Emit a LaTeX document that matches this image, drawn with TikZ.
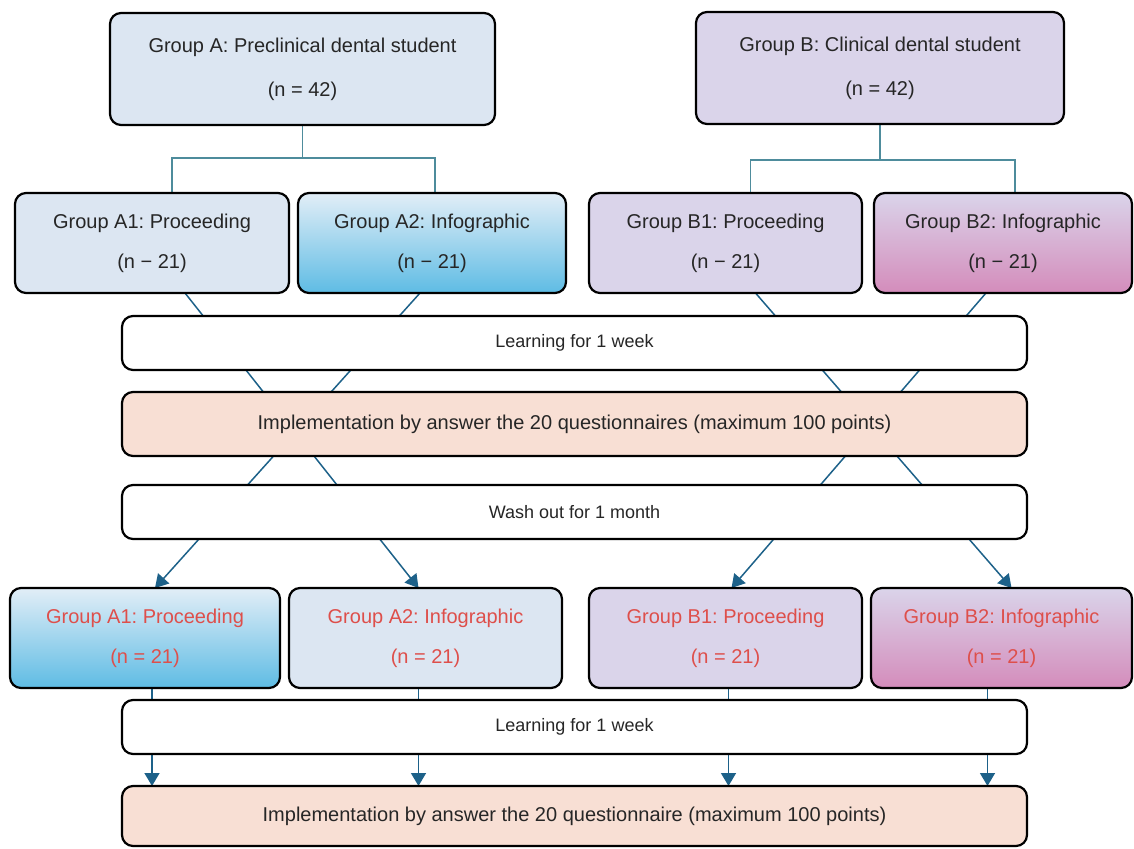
\documentclass[tikz,border=0pt]{standalone}
\usepackage{fontspec}
\setmainfont{Liberation Sans}
\usepackage{xcolor}
\definecolor{cBlueLt}{HTML}{DCE6F2}
\definecolor{cBlueTop}{HTML}{E2EEF7}
\definecolor{cBlueDk}{HTML}{5EBCE4}
\definecolor{cLav}{HTML}{DAD4EA}
\definecolor{cPink}{HTML}{D48CBB}
\definecolor{cPeach}{HTML}{F8DFD4}
\definecolor{cLine}{HTML}{4E8C9C}
\definecolor{cArrow}{HTML}{1D6189}
\definecolor{cRed}{HTML}{DE4F4B}
\definecolor{cText}{HTML}{262626}
\usetikzlibrary{positioning,arrows.meta,backgrounds}
\frenchspacing
\tikzset{
  node-box/.style={draw=black,line width=2.2pt,rounded corners=11pt,outer sep=0pt,
    inner sep=2pt,align=center,text=cText,font=\fontsize{20}{40}\selectfont},
  node-top/.style={node-box,minimum height=112pt,font=\fontsize{20}{44}\selectfont},
  node-grp/.style={node-box,minimum height=100pt},
  node-step/.style={node-box,minimum width=905pt,minimum height=54pt,fill=white,
    font=\fontsize{18}{22}\selectfont},
  node-test/.style={node-box,minimum width=905pt,minimum height=62pt,fill=cPeach},
  % fills: A = blue, B = lavender, shaded = infographic look
  fill-a/.style={fill=cBlueLt},
  fill-b/.style={fill=cLav},
  shade-a/.style={top color=cBlueTop,middle color=cBlueDk!75!cBlueTop,bottom color=cBlueDk},
  shade-b/.style={top color=cLav,middle color=cPink!70!cLav,bottom color=cPink},
  link/.style={draw=cLine,line width=1.5pt},
  arrow/.style={-{Triangle[length=13pt,width=15pt]},line width=1.5pt,draw=cArrow},
}
\begin{document}
\begin{tikzpicture}[x=1pt,y=-1pt]
  \useasboundingbox (0,0) rectangle (1134,848);
  \node[node-top,fill-a,minimum width=385pt,anchor=north west] (gA) at (110,13)
    {Group A: Preclinical dental student\\(n = 42)};
  \node[node-top,fill-b,minimum width=368pt,anchor=north west] (gB) at (696,12)
    {Group B: Clinical dental student\\(n = 42)};
  \node[node-grp,fill-a,minimum width=274pt,anchor=north west] (a1) at (15,193)
    {Group A1: Proceeding\\(n − 21)};
  \node[node-grp,shade-a,minimum width=268pt,right=9pt of a1] (a2)
    {Group A2: Infographic\\(n − 21)};
  \node[node-grp,fill-b,minimum width=273pt,right=23pt of a2] (b1)
    {Group B1: Proceeding\\(n − 21)};
  \node[node-grp,shade-b,minimum width=258pt,right=12pt of b1] (b2)
    {Group B2: Infographic\\(n − 21)};
  \node[node-step,anchor=north west] (learn1) at (122,316) {Learning for 1 week};
  \node[node-test,minimum height=64pt,below=22pt of learn1] (test1)
    {Implementation by answer the 20 questionnaires (maximum 100 points)};
  \node[node-step,below=29pt of test1] (wash) {Wash out for 1 month};
  \node[node-grp,shade-a,text=cRed,minimum width=270pt,anchor=north west] (a1b) at (10,588)
    {Group A1: Proceeding\\(n = 21)};
  \node[node-grp,fill-a,text=cRed,minimum width=273pt,right=9pt of a1b] (a2b)
    {Group A2: Infographic\\(n = 21)};
  \node[node-grp,fill-b,text=cRed,minimum width=273pt,right=27pt of a2b] (b1b)
    {Group B1: Proceeding\\(n = 21)};
  \node[node-grp,shade-b,text=cRed,minimum width=261pt,right=9pt of b1b] (b2b)
    {Group B2: Infographic\\(n = 21)};
  \node[node-step,anchor=north west] (learn2) at (122,700) {Learning for 1 week};
  \node[node-test,minimum height=60pt,below=32pt of learn2] (test2)
    {Implementation by answer the 20 questionnaire (maximum 100 points)};
  \begin{scope}[on background layer]
    \draw[link] (gA.south) -- ++(0,33) coordinate (jA);
    \draw[link] ([xshift=20pt]a1.north) |- (jA) -| ([xshift=3pt]a2.north);
    \draw[link] (gB.south) -- ++(0,36) coordinate (jB);
    \draw[link] ([xshift=25pt]b1.north) |- (jB) -| ([xshift=12pt]b2.north);
    % cross-over after the wash out
    \draw[arrow] ([xshift=33pt]a1.south) -- ([xshift=-7pt]a2b.north);
    \draw[arrow] ([xshift=-12pt]a2.south) -- ([xshift=10pt]a1b.north);
    \draw[arrow] ([xshift=30pt]b1.south) -- ([xshift=10pt]b2b.north);
    \draw[arrow] ([xshift=-17pt]b2.south) -- ([xshift=6pt]b1b.north);
    \foreach \n/\dx in {a1b/7,a2b/-7,b1b/3,b2b/-14}
      \draw[arrow] ([xshift=\dx pt]\n.south) -- ([xshift=\dx pt]\n.south |- test2.north);
  \end{scope}
\end{tikzpicture}
\end{document}
